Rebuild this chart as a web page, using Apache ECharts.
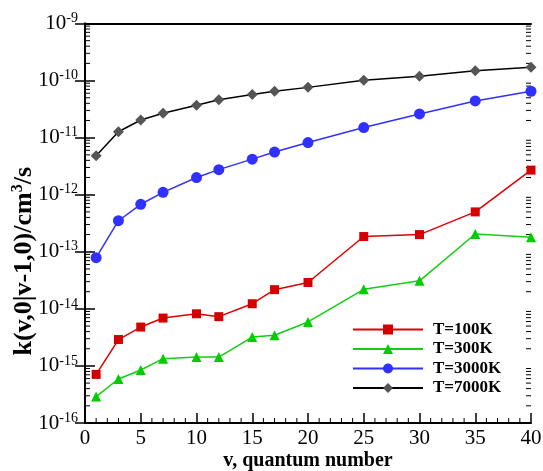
<!DOCTYPE html>
<html>
<head>
<meta charset="utf-8">
<script src="https://cdn.jsdelivr.net/npm/echarts@6/dist/echarts.min.js"></script>
<style>html,body{margin:0;padding:0;background:#fff;}#c{width:543px;height:471px;}</style>
</head>
<body>
<div id="c"></div>
<script>
var vValues = [1, 3, 5, 7, 10, 12, 15, 17, 20, 25, 30, 35, 40];
var k100 = [7.1e-16, 2.9e-15, 4.8e-15, 6.9e-15, 8.2e-15, 7.3e-15, 1.23e-14, 2.17e-14, 2.9e-14, 1.85e-13, 2.0e-13, 5.0e-13, 2.7e-12];
var k300 = [2.9e-16, 5.9e-16, 8.5e-16, 1.34e-15, 1.43e-15, 1.43e-15, 3.2e-15, 3.45e-15, 5.9e-15, 2.2e-14, 3.1e-14, 2.05e-13, 1.8e-13];
var k3000 = [7.9e-14, 3.5e-13, 6.8e-13, 1.1e-12, 2.0e-12, 2.75e-12, 4.2e-12, 5.6e-12, 8.2e-12, 1.5e-11, 2.6e-11, 4.4e-11, 6.5e-11];
var k7000 = [4.8e-12, 1.27e-11, 2.04e-11, 2.67e-11, 3.7e-11, 4.6e-11, 5.7e-11, 6.5e-11, 7.6e-11, 1.01e-10, 1.19e-10, 1.49e-10, 1.71e-10];
var seriesNames = ['T=100K', 'T=300K', 'T=3000K', 'T=7000K'];
var xTickLabels = ['0','5','10','15','20','25','30','35','40'];
var yExponents = [-16, -15, -14, -13, -12, -11, -10, -9];

function pairs(arr) { return vValues.map(function (v, i) { return [v, arr[i]]; }); }
var X_MIN = 0, X_MAX = 40, Y_MIN = Math.pow(10, yExponents[0]), Y_MAX = Math.pow(10, yExponents[yExponents.length - 1]);
var yMinorVals = [];
for (var e = yExponents[0]; e < yExponents[yExponents.length - 1]; e++) {
  for (var m = 2; m <= 9; m++) yMinorVals.push([X_MIN, m * Math.pow(10, e)]);
}
var xMinorVals = [];
for (var xv = X_MIN + 1; xv < X_MAX; xv++) { if (xv % 5 !== 0) xMinorVals.push([xv, Y_MIN]); }

var FF = 'Liberation Serif';
var chart = echarts.init(document.getElementById('c'), null, {renderer: 'canvas'});
var tickStyle = {color: '#000', width: 1.5};
var MINOR = 5;
function yMinorRender(params, api) {
  var val = api.value(1);
  var p = api.coord([X_MIN, val]);
  var q = api.coord([X_MAX, val]);
  var st = {stroke: '#000', lineWidth: 1};
  return {type: 'group', children: [
    {type: 'line', shape: {x1: p[0], y1: p[1], x2: p[0] + MINOR, y2: p[1]}, style: st},
    {type: 'line', shape: {x1: q[0] - MINOR, y1: q[1], x2: q[0], y2: q[1]}, style: st}
  ]};
}
function xMinorRender(params, api) {
  var p = api.coord([api.value(0), Y_MIN]);
  return {type: 'line', shape: {x1: p[0], y1: p[1], x2: p[0], y2: p[1] - MINOR}, style: {stroke: '#000', lineWidth: 1}};
}
chart.setOption({
  animation: false,
  backgroundColor: '#fff',
  textStyle: {fontFamily: FF},
  grid: {left: 85, right: 12, top: 23.5, bottom: 48, containLabel: false, outerBoundsMode: 'none'},
  legend: {
    orient: 'vertical', left: 347, top: 316, itemWidth: 70, itemHeight: 12.5, itemGap: 2.5,
    data: seriesNames,
    textStyle: {fontFamily: FF, fontWeight: 'bold', fontSize: 17, color: '#000', padding: [0, 0, 0, 5]}
  },
  xAxis: [{
    type: 'value', min: X_MIN, max: X_MAX, interval: 5,
    name: 'v, quantum number', nameLocation: 'middle', nameGap: 28, nameMoveOverlap: false,
    nameTextStyle: {fontFamily: FF, fontWeight: 'bold', fontSize: 20, color: '#000'},
    axisLine: {show: true, lineStyle: {color: '#000', width: 2}},
    axisTick: {show: true, inside: true, length: 10, lineStyle: tickStyle},
    axisLabel: {fontFamily: FF, fontSize: 21, color: '#000', margin: 5,
      formatter: function (v) { return xTickLabels[Math.round(v / 5)]; }},
    splitLine: {show: false}
  }, {
    type: 'value', min: X_MIN, max: X_MAX, position: 'top',
    axisLine: {show: true, lineStyle: {color: '#000', width: 2}},
    axisTick: {show: false}, axisLabel: {show: false}, splitLine: {show: false}
  }],
  yAxis: [{
    type: 'log', logBase: 10, min: Y_MIN, max: Y_MAX, interval: 1, position: 'left',
    name: '{t|k(v,0|v-1,0)/cm}{sup|3}{t|/s}', nameLocation: 'middle', nameRotate: 90, nameGap: 47, nameMoveOverlap: false,
    nameTextStyle: {
      padding: [0, 76, 0, 0],
      rich: {
        t: {fontFamily: FF, fontWeight: 'bold', fontSize: 26, color: '#000'},
        sup: {fontFamily: FF, fontWeight: 'bold', fontSize: 16, color: '#000', padding: [0, 0, 12, 0]}
      }
    },
    axisLine: {show: true, lineStyle: {color: '#000', width: 2}},
    axisTick: {show: true, inside: true, length: 10, lineStyle: tickStyle},
    axisLabel: {
      margin: 7,
      formatter: function (v) { var ex = Math.round(Math.log10(v)); return '{b|10}{s|' + ex + '}'; },
      rich: {
        b: {fontFamily: FF, fontSize: 21, color: '#000'},
        s: {fontFamily: FF, fontSize: 14, color: '#000', padding: [0, 0, 10, 0]}
      }
    },
    splitLine: {show: false}
  }, {
    type: 'log', logBase: 10, min: Y_MIN, max: Y_MAX, interval: 1, position: 'right',
    axisLine: {show: true, lineStyle: {color: '#000', width: 2}},
    axisTick: {show: true, inside: true, length: 10, lineStyle: tickStyle},
    axisLabel: {show: false}, splitLine: {show: false}
  }],
  series: [
    {name: seriesNames[0], type: 'line', data: pairs(k100), clip: false, symbol: 'rect', symbolSize: 9,
      itemStyle: {color: '#d40000'}, lineStyle: {color: '#e00000', width: 1.5}, z: 5},
    {name: seriesNames[1], type: 'line', data: pairs(k300), clip: false, symbol: 'triangle', symbolSize: 10,
      itemStyle: {color: '#00cc00'}, lineStyle: {color: '#10d010', width: 1.5}, z: 5},
    {name: seriesNames[2], type: 'line', data: pairs(k3000), clip: false, symbol: 'circle', symbolSize: 11,
      itemStyle: {color: '#3030ff'}, lineStyle: {color: '#3030ff', width: 1.5}, z: 5},
    {name: seriesNames[3], type: 'line', data: pairs(k7000), clip: false, symbol: 'diamond', symbolSize: 11,
      itemStyle: {color: '#555555'}, lineStyle: {color: '#000000', width: 1.5}, z: 5},
    {name: 'yMinor', type: 'custom', data: yMinorVals, renderItem: yMinorRender, silent: true, clip: false, z: 1},
    {name: 'xMinor', type: 'custom', data: xMinorVals, renderItem: xMinorRender, silent: true, clip: false, z: 1}
  ]
});
</script>
</body>
</html>
